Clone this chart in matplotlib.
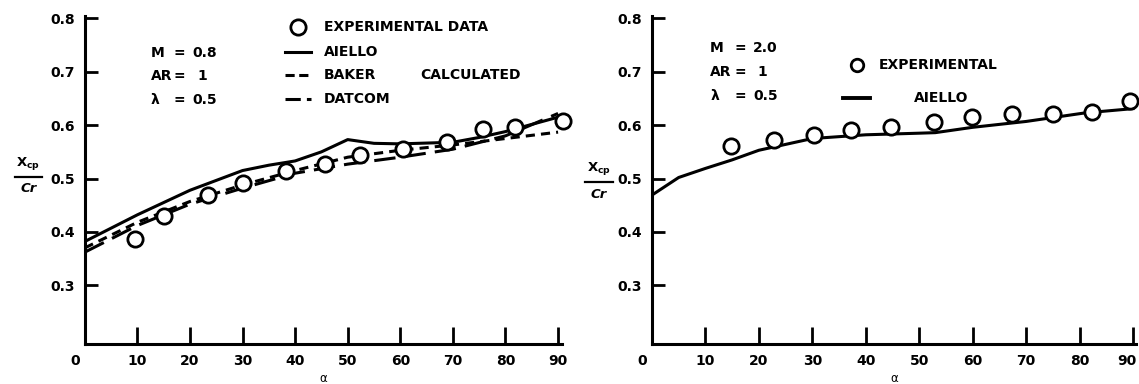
import matplotlib
matplotlib.use("Agg")
import matplotlib.pyplot as plt
import matplotlib.transforms as mtransforms
from matplotlib.lines import Line2D

plt.rcParams['font.family'] = ['DejaVu Sans']
plt.rcParams['font.weight'] = 'bold'
plt.rcParams['mathtext.default'] = 'bf'

# M = 0.8 panel
exp_alpha_08 = [9.5, 15.0, 23.4, 30.1, 38.2, 45.6, 52.4, 60.6, 68.8, 75.7, 81.9, 90.9]
exp_xcp_08 = [0.387, 0.430, 0.469, 0.492, 0.515, 0.528, 0.545, 0.555, 0.568, 0.592, 0.596, 0.608]

aiello_alpha_08 = [0, 10, 20, 30, 35, 40, 45, 50, 55, 60, 70, 75, 80, 90]
aiello_xcp_08 = [0.382, 0.432, 0.478, 0.515, 0.525, 0.533, 0.550, 0.573, 0.566, 0.565,
                 0.568, 0.577, 0.588, 0.615]

calc_alpha_08 = [0, 10, 20, 30, 40, 50, 60, 70, 80, 90]
baker_xcp_08 = [0.370, 0.418, 0.457, 0.488, 0.515, 0.540, 0.553, 0.563, 0.575, 0.587]
datcom_xcp_08 = [0.362, 0.412, 0.452, 0.482, 0.510, 0.527, 0.540, 0.555, 0.580, 0.622]

# M = 2.0 panel
exp_alpha_20 = [14.8, 22.8, 30.3, 37.3, 44.8, 52.7, 59.9, 67.3, 75.0, 82.4, 89.5]
exp_xcp_20 = [0.561, 0.572, 0.582, 0.591, 0.596, 0.606, 0.616, 0.621, 0.621, 0.625, 0.645]

aiello_alpha_20 = [0, 5, 10, 15, 20, 30, 40, 50, 53, 60, 70, 81, 90]
aiello_xcp_20 = [0.469, 0.502, 0.519, 0.535, 0.553, 0.575, 0.582, 0.585, 0.586, 0.596,
                 0.607, 0.623, 0.631]

xticks = [0, 10, 20, 30, 40, 50, 60, 70, 80, 90]
yticks = [0.3, 0.4, 0.5, 0.6, 0.7, 0.8]

fig = plt.figure(figsize=(11.39, 3.84), dpi=100)
ax1 = fig.add_axes([0.0744, 0.1042, 0.4188, 0.8547])
ax2 = fig.add_axes([0.5724, 0.1042, 0.4247, 0.8547])

fs = 10


def shift_label(ax, idx, dx_px):
    lab = ax.get_xticklabels()[idx]
    lab.set_transform(lab.get_transform() +
                      mtransforms.ScaledTranslation(dx_px / 100, 0, fig.dpi_scale_trans))


def style_axes(ax, xmax):
    ax.set_xlim(0, xmax)
    ax.set_ylim(0.19, 0.805)
    for s in ['top', 'right']:
        ax.spines[s].set_visible(False)
    for s in ['left', 'bottom']:
        ax.spines[s].set_linewidth(2.2)
    ax.set_xticks(xticks)
    ax.set_xticklabels([str(t) for t in xticks], fontsize=fs, fontweight='bold')
    ax.set_yticks(yticks)
    ax.set_yticklabels([f'{t:.1f}' for t in yticks], fontsize=fs, fontweight='bold')
    ax.tick_params(axis='x', direction='in', length=12, width=2, pad=7)
    ax.tick_params(axis='y', direction='in', length=9, width=2, pad=7)
    # the "0" label sits left of the axis in the original
    shift_label(ax, 0, -10)
    ax.set_xlabel('α', fontsize=8.5, labelpad=3)


def ylabel(xc, yc):
    fig.text(xc, yc + 0.035, r'X$_{cp}$', ha='center', va='center',
             fontsize=9.5, fontweight='bold')
    fig.add_artist(Line2D([xc - 0.012, xc + 0.012], [yc, yc], color='black',
                          linewidth=1.6, transform=fig.transFigure))
    fig.text(xc, yc - 0.032, 'Cr', ha='center', va='center', fontsize=9.5,
             fontweight='bold', style='italic')


mk = dict(marker='o', markersize=11, markerfacecolor='white', markeredgecolor='black',
          markeredgewidth=2, linestyle='none', clip_on=False, zorder=5)

# left panel
style_axes(ax1, 90.7)
ax1.plot(aiello_alpha_08, aiello_xcp_08, color='black', linewidth=2.2)
ax1.plot(calc_alpha_08, baker_xcp_08, color='black', linewidth=2.2, dashes=(3, 2))
ax1.plot(calc_alpha_08, datcom_xcp_08, color='black', linewidth=2.2, dashes=(7, 3))
ax1.plot(exp_alpha_08, exp_xcp_08, **mk)

tk = dict(fontsize=fs, fontweight='bold', va='center')
for name, val, yy in [('M', '0.8', 0.735), ('AR', '1', 0.692), ('λ', '0.5', 0.648)]:
    ax1.text(12.6, yy, name, ha='left', **tk)
    ax1.text(18.0, yy, '=', ha='center', **tk)
    ax1.text(20.5 if val != '1' else 21.5, yy, val, ha='left', **tk)

ax1.plot([40.6], [0.784], **mk)
ax1.text(45.4, 0.784, 'EXPERIMENTAL DATA', ha='left', **tk)
ax1.plot([38.1, 43.0], [0.737, 0.737], color='black', linewidth=2.2)
ax1.text(45.4, 0.737, 'AIELLO', ha='left', **tk)
ax1.plot([38.1, 43.0], [0.694, 0.694], color='black', linewidth=2.2, dashes=(3, 1.5))
ax1.text(45.4, 0.694, 'BAKER', ha='left', **tk)
ax1.text(63.7, 0.694, 'CALCULATED', ha='left', **tk)
ax1.plot([38.1, 43.0], [0.650, 0.650], color='black', linewidth=2.2, dashes=(5, 2))
ax1.text(45.4, 0.650, 'DATCOM', ha='left', **tk)

# right panel
style_axes(ax2, 90.5)
shift_label(ax2, -1, -6)
ax2.plot(aiello_alpha_20, aiello_xcp_20, color='black', linewidth=2.2)
ax2.plot(exp_alpha_20, exp_xcp_20, **mk)

for name, val, yy in [('M', '2.0', 0.745), ('AR', '1', 0.699), ('λ', '0.5', 0.654)]:
    ax2.text(10.9, yy, name, ha='left', **tk)
    ax2.text(16.5, yy, '=', ha='center', **tk)
    ax2.text(18.9 if val != '1' else 19.8, yy, val, ha='left', **tk)

ax2.plot([38.4], [0.712], **dict(mk, markersize=9))
ax2.text(42.5, 0.712, 'EXPERIMENTAL', ha='left', **tk)
ax2.plot([35.7, 40.8], [0.651, 0.651], color='black', linewidth=2.8)
ax2.text(49.0, 0.651, 'AIELLO', ha='left', **tk)

ylabel(0.025, 0.54)
ylabel(0.526, 0.525)

fig.savefig('out.png', dpi=100)
